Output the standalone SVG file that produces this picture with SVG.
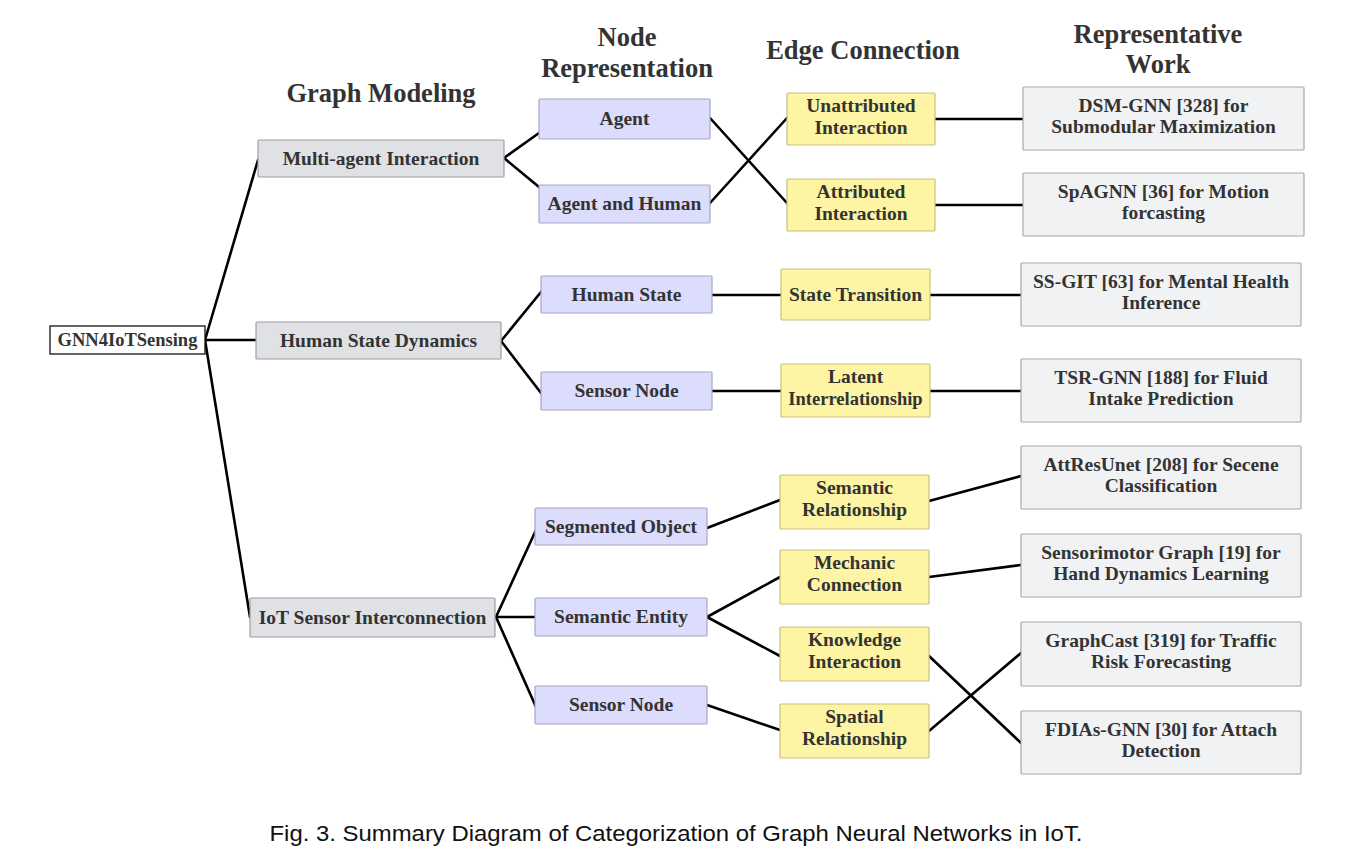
<svg xmlns="http://www.w3.org/2000/svg" width="1351" height="864" viewBox="0 0 1351 864">
<style>
text{font-family:"Liberation Serif","DejaVu Serif",serif;fill:#333;text-anchor:middle}
.hd{font-size:26.5px;font-weight:bold;fill:#333}
.t{font-size:19.5px;font-weight:bold}
.w{font-size:19.5px;font-weight:bold;fill:#333}
.root{fill:#fff;stroke:#111;stroke-width:1.3}
.gm{fill:#dfe1e5;stroke:#9c9ea2;stroke-width:1.2}
.nr{fill:#dcdcfc;stroke:#a6a6c8;stroke-width:1.2}
.ec{fill:#fdf5a3;stroke:#c8c080;stroke-width:1.2}
.rw{fill:#f1f2f4;stroke:#a6a7aa;stroke-width:1.2}
.c line{stroke:#000;stroke-width:2.6;stroke-linecap:round}
.cap{font-family:"Liberation Sans",sans-serif;font-size:22px;fill:#111;font-weight:normal}
</style>
<rect width="1351" height="864" fill="#fff"/>
<g id="headers">
<text class="hd" x="381" y="102">Graph Modeling</text>
<text class="hd" x="627" y="46">Node</text>
<text class="hd" x="627" y="77">Representation</text>
<text class="hd" x="863" y="59">Edge Connection</text>
<text class="hd" x="1158" y="43">Representative</text>
<text class="hd" x="1158" y="73">Work</text>
</g>
<g class="c" id="connectors">
<line x1="205" y1="340" x2="258" y2="160"/>
<line x1="205" y1="340" x2="256" y2="340"/>
<line x1="205" y1="340" x2="250" y2="617"/>
<line x1="504" y1="158" x2="539" y2="133"/>
<line x1="504" y1="158" x2="539" y2="187"/>
<line x1="710" y1="118" x2="787" y2="203"/>
<line x1="710" y1="203" x2="787" y2="118"/>
<line x1="935" y1="119" x2="1023" y2="119"/>
<line x1="935" y1="205" x2="1023" y2="205"/>
<line x1="501" y1="341" x2="541" y2="292"/>
<line x1="501" y1="341" x2="541" y2="393"/>
<line x1="712" y1="295" x2="1021" y2="295"/>
<line x1="712" y1="391" x2="1021" y2="391"/>
<line x1="496" y1="617" x2="536" y2="530"/>
<line x1="496" y1="617" x2="536" y2="617"/>
<line x1="496" y1="617" x2="536" y2="707"/>
<line x1="707" y1="528" x2="780" y2="500"/>
<line x1="707" y1="617" x2="780" y2="577"/>
<line x1="707" y1="617" x2="780" y2="656"/>
<line x1="707" y1="705" x2="780" y2="730"/>
<line x1="929" y1="501" x2="1021" y2="476"/>
<line x1="929" y1="577" x2="1021" y2="565"/>
<line x1="929" y1="656" x2="1021" y2="743"/>
<line x1="929" y1="731" x2="1021" y2="653"/>
</g>
<g id="root"><rect class="root" x="50" y="326" width="155" height="28"/><text class="t" x="127.5" y="346" style="font-size:18.5px">GNN4IoTSensing</text></g>
<g id="gm1"><rect class="gm" x="258" y="140" width="246" height="37" rx="1"/><text class="t" x="381" y="165">Multi-agent Interaction</text></g>
<g id="gm2"><rect class="gm" x="256" y="322" width="245" height="37" rx="1"/><text class="t" x="378.5" y="347">Human State Dynamics</text></g>
<g id="gm3"><rect class="gm" x="250" y="598" width="245" height="39" rx="1"/><text class="t" x="372.5" y="624">IoT Sensor Interconnection</text></g>
<g id="nr1"><rect class="nr" x="539" y="99" width="171" height="40" rx="1"/><text class="t" x="624.5" y="125">Agent</text></g>
<g id="nr2"><rect class="nr" x="539" y="185" width="171" height="38" rx="1"/><text class="t" x="624.5" y="210">Agent and Human</text></g>
<g id="nr3"><rect class="nr" x="541" y="276" width="171" height="37" rx="1"/><text class="t" x="626.5" y="301">Human State</text></g>
<g id="nr4"><rect class="nr" x="541" y="372" width="171" height="38" rx="1"/><text class="t" x="626.5" y="397">Sensor Node</text></g>
<g id="nr5"><rect class="nr" x="535" y="508" width="172" height="37" rx="1"/><text class="t" x="621" y="533">Segmented Object</text></g>
<g id="nr6"><rect class="nr" x="535" y="598" width="172" height="38" rx="1"/><text class="t" x="621" y="623">Semantic Entity</text></g>
<g id="nr7"><rect class="nr" x="535" y="686" width="172" height="38" rx="1"/><text class="t" x="621" y="711">Sensor Node</text></g>
<g id="ec1"><rect class="ec" x="787" y="93" width="148" height="52" rx="1"/><text class="t" x="861" y="112">Unattributed</text><text class="t" x="861" y="134">Interaction</text></g>
<g id="ec2"><rect class="ec" x="787" y="179" width="148" height="52" rx="1"/><text class="t" x="861" y="198">Attributed</text><text class="t" x="861" y="220">Interaction</text></g>
<g id="ec3"><rect class="ec" x="781" y="269" width="149" height="51" rx="1"/><text class="t" x="855.5" y="301">State Transition</text></g>
<g id="ec4"><rect class="ec" x="781" y="364" width="149" height="53" rx="1"/><text class="t" x="855.5" y="383">Latent</text><text class="t" x="855.5" y="405" style="font-size:18.5px">Interrelationship</text></g>
<g id="ec5"><rect class="ec" x="780" y="475" width="149" height="54" rx="1"/><text class="t" x="854.5" y="494">Semantic</text><text class="t" x="854.5" y="516">Relationship</text></g>
<g id="ec6"><rect class="ec" x="780" y="550" width="149" height="54" rx="1"/><text class="t" x="854.5" y="569">Mechanic</text><text class="t" x="854.5" y="591">Connection</text></g>
<g id="ec7"><rect class="ec" x="780" y="627" width="149" height="54" rx="1"/><text class="t" x="854.5" y="646">Knowledge</text><text class="t" x="854.5" y="668">Interaction</text></g>
<g id="ec8"><rect class="ec" x="780" y="704" width="149" height="54" rx="1"/><text class="t" x="854.5" y="723">Spatial</text><text class="t" x="854.5" y="745">Relationship</text></g>
<g id="rw1"><rect class="rw" x="1023" y="87" width="281" height="63" rx="1"/><text class="w" x="1163.5" y="112">DSM-GNN [328] for</text><text class="w" x="1163.5" y="133">Submodular Maximization</text></g>
<g id="rw2"><rect class="rw" x="1023" y="173" width="281" height="63" rx="1"/><text class="w" x="1163.5" y="198">SpAGNN [36] for Motion</text><text class="w" x="1163.5" y="219">forcasting</text></g>
<g id="rw3"><rect class="rw" x="1021" y="263" width="280" height="63" rx="1"/><text class="w" x="1161" y="288">SS-GIT [63] for Mental Health</text><text class="w" x="1161" y="309">Inference</text></g>
<g id="rw4"><rect class="rw" x="1021" y="359" width="280" height="63" rx="1"/><text class="w" x="1161" y="384">TSR-GNN [188] for Fluid</text><text class="w" x="1161" y="405">Intake Prediction</text></g>
<g id="rw5"><rect class="rw" x="1021" y="446" width="280" height="63" rx="1"/><text class="w" x="1161" y="471">AttResUnet [208] for Secene</text><text class="w" x="1161" y="492">Classification</text></g>
<g id="rw6"><rect class="rw" x="1021" y="534" width="280" height="63" rx="1"/><text class="w" x="1161" y="559">Sensorimotor Graph [19] for</text><text class="w" x="1161" y="580">Hand Dynamics Learning</text></g>
<g id="rw7"><rect class="rw" x="1021" y="622" width="280" height="64" rx="1"/><text class="w" x="1161" y="647">GraphCast [319] for Traffic</text><text class="w" x="1161" y="668">Risk Forecasting</text></g>
<g id="rw8"><rect class="rw" x="1021" y="711" width="280" height="63" rx="1"/><text class="w" x="1161" y="736">FDIAs-GNN [30] for Attach</text><text class="w" x="1161" y="757">Detection</text></g>
<text class="cap" x="676" y="841" textLength="813" lengthAdjust="spacingAndGlyphs">Fig. 3.  Summary Diagram of Categorization of Graph Neural Networks in IoT.</text>
</svg>
